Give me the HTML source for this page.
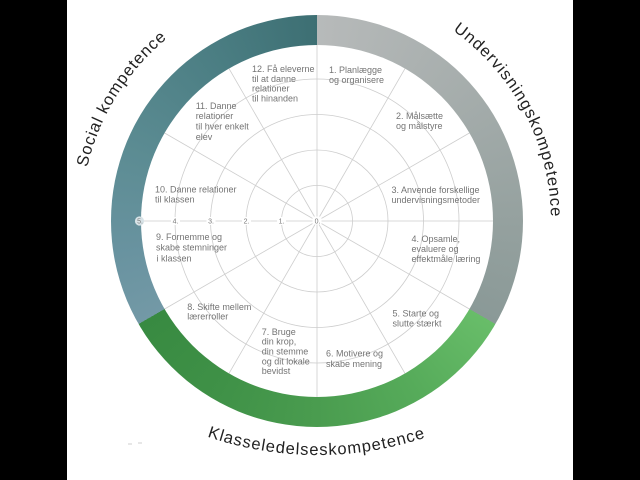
<!DOCTYPE html>
<html>
<head>
<meta charset="utf-8">
<style>
  html,body{margin:0;padding:0;background:#fff;}
  body{width:640px;height:480px;overflow:hidden;position:relative;}
  .ring{position:absolute;left:111px;top:15px;width:412px;height:412px;border-radius:50%;
    background:conic-gradient(from 0deg at 50% 50%,
      #b7baba 0deg, #a7aead 45deg, #95a19f 90deg, #8a9997 120deg,
      #68bd69 120deg, #56ab5a 150deg, #4a9c4f 180deg, #3f9147 210deg, #388a41 240deg,
      #7399a6 240deg, #6993a0 260deg, #5c8c93 290deg, #4a7d82 330deg, #3d6f73 360deg);}
  svg{position:absolute;left:0;top:0;}
  .lb{font-family:"Liberation Sans",sans-serif;font-size:9px;fill:#747474;}
  .sc{font-family:"Liberation Sans",sans-serif;font-size:7px;fill:#7a7a7a;}
  .tt{font-family:"Liberation Sans",sans-serif;font-size:16.5px;fill:#222;}
</style>
</head>
<body>
<div class="ring"></div>
<svg width="640" height="480" viewBox="0 0 640 480">
  <defs>
    <path id="pSocial" d="M 87.2 167.3 A 236 236 0 0 1 168.0 37.6"/>
    <path id="pUnder" d="M 452.88 30.50 A 234 234 0 0 1 550.96 216.92"/>
    <path id="pKlasse" d="M 207.1 436.6 A 340 340 0 0 0 425.0 437.6"/>
  </defs>

  <!-- black side bars -->
  <rect x="0" y="0" width="67" height="480" fill="#000"/>
  <rect x="573" y="0" width="67" height="480" fill="#000"/>

  <!-- inner white disc -->
  <circle cx="317" cy="221" r="176" fill="#fff"/>

  <!-- grid circles -->
  <g fill="none" stroke="#cdcdcd" stroke-width="0.8">
    <circle cx="317" cy="221" r="35.5"/>
    <circle cx="317" cy="221" r="71"/>
    <circle cx="317" cy="221" r="106.5"/>
    <circle cx="317" cy="221" r="142"/>
  </g>
  <!-- spokes -->
  <g stroke="#cdcdcd" stroke-width="0.8">
    <line x1="317" y1="221" x2="317" y2="45"/>
    <line x1="317" y1="221" x2="405" y2="68.6"/>
    <line x1="317" y1="221" x2="469.4" y2="133"/>
    <line x1="317" y1="221" x2="493" y2="221"/>
    <line x1="317" y1="221" x2="469.4" y2="309"/>
    <line x1="317" y1="221" x2="405" y2="373.4"/>
    <line x1="317" y1="221" x2="317" y2="397"/>
    <line x1="317" y1="221" x2="229" y2="373.4"/>
    <line x1="317" y1="221" x2="164.6" y2="309"/>
    <line x1="317" y1="221" x2="141" y2="221"/>
    <line x1="317" y1="221" x2="164.6" y2="133"/>
    <line x1="317" y1="221" x2="229" y2="68.6"/>
  </g>

  <!-- scale labels -->
  <g fill="#fff">
    <rect x="312.5" y="216.5" width="9" height="8"/>
    <rect x="277" y="217" width="9" height="8"/>
    <rect x="242" y="217" width="9" height="8"/>
    <rect x="206.5" y="217" width="9" height="8"/>
    <rect x="171" y="217" width="9" height="8"/>
  </g>
  <circle cx="139.5" cy="221" r="4.6" fill="#d8e3e7"/>
  <text class="sc" x="317.5" y="223.6" text-anchor="middle">0.</text>
  <text class="sc" x="281.5" y="223.6" text-anchor="middle">1.</text>
  <text class="sc" x="246.5" y="223.6" text-anchor="middle">2.</text>
  <text class="sc" x="211" y="223.6" text-anchor="middle">3.</text>
  <text class="sc" x="175.5" y="223.6" text-anchor="middle">4.</text>
  <text class="sc" x="140" y="223.6" text-anchor="middle">5.</text>

  <!-- sector labels -->
  <text class="lb" x="252" y="72.2">12. Få eleverne</text>
  <text class="lb" x="252" y="82.2">til at danne</text>
  <text class="lb" x="252" y="91.7">relationer</text>
  <text class="lb" x="252" y="101.5">til hinanden</text>

  <text class="lb" x="329" y="73.2">1. Planlægge</text>
  <text class="lb" x="329" y="83.2">og organisere</text>

  <text class="lb" x="396" y="119.2">2. Målsætte</text>
  <text class="lb" x="396" y="129.2">og målstyre</text>

  <text class="lb" x="391.5" y="193.2">3. Anvende forskellige</text>
  <text class="lb" x="391.5" y="203.2">undervisningsmetoder</text>

  <text class="lb" x="411.5" y="242.2">4. Opsamle,</text>
  <text class="lb" x="411.5" y="252.2">evaluere og</text>
  <text class="lb" x="411.5" y="262.2">effektmåle læring</text>

  <text class="lb" x="392.5" y="316.5">5. Starte og</text>
  <text class="lb" x="392.5" y="326.5">slutte stærkt</text>

  <text class="lb" x="326" y="356.5">6. Motivere og</text>
  <text class="lb" x="326" y="367">skabe mening</text>

  <text class="lb" x="261.7" y="334.9">7. Bruge</text>
  <text class="lb" x="261.7" y="344.6">din krop,</text>
  <text class="lb" x="261.7" y="354.6">din stemme</text>
  <text class="lb" x="261.7" y="364.3">og dit lokale</text>
  <text class="lb" x="261.7" y="374.2">bevidst</text>

  <text class="lb" x="187.3" y="309.9">8. Skifte mellem</text>
  <text class="lb" x="187.3" y="319.6">lærerroller</text>

  <text class="lb" x="156" y="239.9">9. Fornemme og</text>
  <text class="lb" x="156" y="250.5">skabe stemninger</text>
  <text class="lb" x="156.5" y="261.3">i klassen</text>

  <text class="lb" x="155" y="192.5">10. Danne relationer</text>
  <text class="lb" x="155" y="202.5">til klassen</text>

  <text class="lb" x="195.7" y="108.9">11. Danne</text>
  <text class="lb" x="195.7" y="119.2">relationer</text>
  <text class="lb" x="195.7" y="129.5">til hver enkelt</text>
  <text class="lb" x="195.7" y="139.8">elev</text>

  <!-- curved titles -->
  <text class="tt"><textPath href="#pSocial" textLength="154" lengthAdjust="spacing">Social kompetence</textPath></text>
  <text class="tt"><textPath href="#pUnder" textLength="218" lengthAdjust="spacing">Undervisningskompetence</textPath></text>
  <text class="tt"><textPath href="#pKlasse" textLength="222" lengthAdjust="spacing">Klasseledelseskompetence</textPath></text>

  <!-- faint marks -->
  <rect x="128" y="443.5" width="4" height="1" fill="#cfcfcf"/>
  <rect x="138" y="442.5" width="4" height="1" fill="#cfcfcf"/>
</svg>
</body>
</html>
